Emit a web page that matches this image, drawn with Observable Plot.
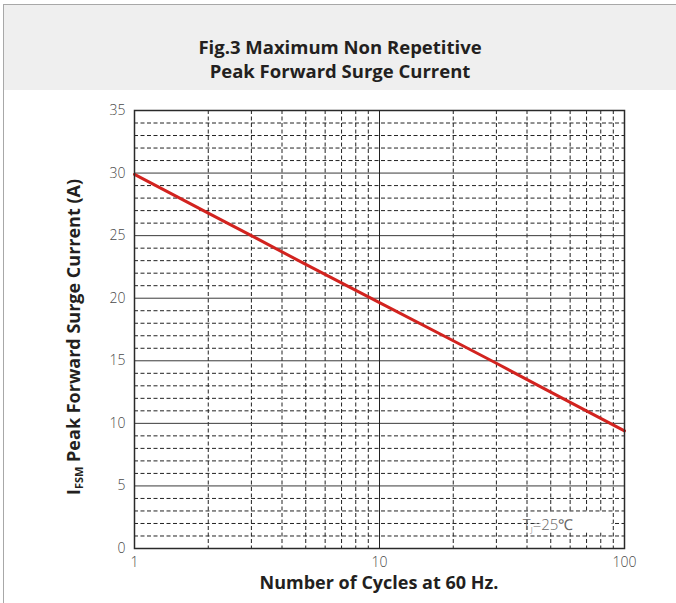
<!DOCTYPE html>
<html>
<head>
<meta charset="utf-8">
<script src="https://cdn.jsdelivr.net/npm/d3@7"></script>
<script src="https://cdn.jsdelivr.net/npm/@observablehq/plot@0.6"></script>
<style>
  body { margin: 0; background: #fff; }
  #frame { position: relative; width: 676px; height: 603px; overflow: hidden; background: #fff; }
  #border-left { position: absolute; left: 3px; top: 4px; width: 1px; height: 600px; background: #a8a8a8; }
  #border-top { position: absolute; left: 3px; top: 4px; width: 673px; height: 1px; background: #a8a8a8; }
  #header { position: absolute; left: 4px; top: 5px; width: 672px; height: 85px; background: #efefef;
            font-family: "Open Sans", sans-serif; font-weight: 700; font-size: 18.5px; line-height: 24px;
            color: #231f20; text-align: center; box-sizing: border-box; padding-top: 30px; }
  #chart { position: absolute; left: 4px; top: 90px; }
</style>
</head>
<body>
<div id="frame">
  <div id="border-left"></div>
  <div id="border-top"></div>
  <div id="header">Fig.3 Maximum Non Repetitive<br>Peak Forward Surge Current</div>
  <div id="chart"></div>
</div>
<script>
// Data
const cycles = [1, 2, 3, 5, 10, 20, 30, 50, 100];
const surgeCurrent = [29.9, 26.8, 25.0, 22.7, 19.65, 16.6, 14.8, 12.5, 9.4];
const xTicks = [1, 10, 100];
const yTicks = [0, 5, 10, 15, 20, 25, 30, 35];
const majorY = [5, 10, 15, 20, 25, 30];
const minorY = d3.range(1, 35).filter(v => v % 5 !== 0);
const majorX = [10];
const minorX = [2, 3, 4, 5, 6, 7, 8, 9, 20, 30, 40, 50, 60, 70, 80, 90];
const noteText = "=25℃";

const data = cycles.map((c, i) => ({c, v: surgeCurrent[i]}));
const noteBox = [{x1: 45, x2: 89, y1: 1.25, y2: 2.8}];

const plot = Plot.plot({
  width: 672,
  height: 513,
  marginLeft: 130,
  marginRight: 52,
  marginTop: 20,
  marginBottom: 55,
  style: {fontFamily: "'Open Sans', sans-serif", fontSize: "14px", color: "#4a4a4a", background: "transparent", fontWeight: 300},
  x: {type: "log", domain: [1, 100], ticks: xTicks, tickFormat: d => String(d), tickSize: 0, tickPadding: 9, label: null},
  y: {domain: [0, 35], ticks: yTicks, tickSize: 0, tickPadding: 9, label: null},
  marks: [
    Plot.ruleY(minorY, {stroke: "#222", strokeDasharray: "4,2.5", strokeWidth: 1}),
    Plot.ruleX(minorX, {stroke: "#222", strokeDasharray: "4,2.5", strokeWidth: 1}),
    Plot.ruleY(majorY, {stroke: "#3a3a3a", strokeWidth: 1}),
    Plot.ruleX(majorX, {stroke: "#222", strokeWidth: 1}),
    Plot.rect(noteBox, {x1: "x1", x2: "x2", y1: "y1", y2: "y2", fill: "white"}),
    Plot.line(data, {x: "c", y: "v", stroke: "#d2231f", strokeWidth: 3}),
    Plot.frame({stroke: "#2a2a2a", strokeWidth: 1.5})
  ]
});

document.getElementById("chart").appendChild(plot);

const svg = d3.select(plot);
const sx = plot.scale("x"), sy = plot.scale("y");

// Y axis title with subscript
const yt = svg.append("text")
  .attr("transform", `translate(71,247) rotate(-90)`)
  .attr("text-anchor", "middle")
  .attr("dominant-baseline", "middle")
  .attr("font-family", "'Open Sans', sans-serif")
  .attr("font-weight", 700)
  .attr("font-size", 18)
  .attr("fill", "#231f20");
yt.append("tspan").text("I");
yt.append("tspan").attr("font-size", 11).attr("dy", 5).text("FSM");
yt.append("tspan").attr("dy", -5).text(" Peak Forward Surge Current (A)");

// X axis title
svg.append("text")
  .attr("x", (sx.range[0] + sx.range[1]) / 2)
  .attr("y", 494)
  .attr("text-anchor", "middle")
  .attr("dominant-baseline", "middle")
  .attr("font-family", "'Open Sans', sans-serif")
  .attr("font-weight", 700)
  .attr("font-size", 18)
  .attr("fill", "#231f20")
  .text("Number of Cycles at 60 Hz.");

// Tj annotation
const note = svg.append("text")
  .attr("x", sx.apply(49))
  .attr("y", sy.apply(1.75))
  .attr("dominant-baseline", "middle")
  .attr("font-family", "'Open Sans', sans-serif")
  .attr("font-weight", 300)
  .attr("font-size", 15)
  .attr("fill", "#666");
note.append("tspan").text("T");
note.append("tspan").attr("font-size", 8).attr("dy", 4).text("J");
note.append("tspan").attr("dy", -4).text(noteText);
</script>
</body>
</html>
